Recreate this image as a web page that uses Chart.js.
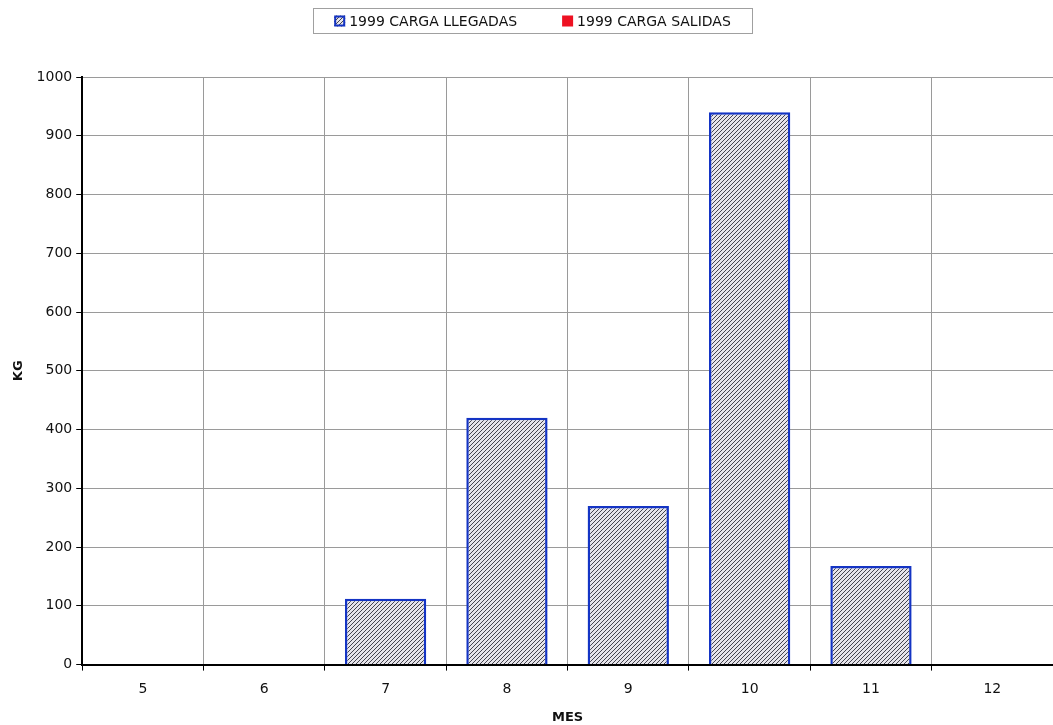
<!DOCTYPE html>
<html>
<head>
<meta charset="utf-8">
<script src="https://cdn.jsdelivr.net/npm/chart.js@4"></script>
<style>
  body { margin: 0; background: #fff; }
  #wrap { width: 1053px; height: 725px; }
</style>
</head>
<body>
<div id="wrap"><canvas id="cargaChart"></canvas></div>
<script>
// data
const meses = ["5", "6", "7", "8", "9", "10", "11", "12"];
const llegadas = [0, 0, 112, 420, 270, 940, 168, 0];
const salidas = [0, 0, 0, 0, 0, 0, 0, 0];
const yTicks = [0, 100, 200, 300, 400, 500, 600, 700, 800, 900, 1000];

const FONT = "'DejaVu Sans', Verdana, sans-serif";
const BLUE = "#1434c4";
const RED = "#ee1122";

// hatch fill for the bars
function makeHatch() {
    const c = document.createElement("canvas");
    c.width = 4;
    c.height = 4;
    const g = c.getContext("2d");
    g.fillStyle = "#e6e4ea";
    g.fillRect(0, 0, 4, 4);
    g.strokeStyle = "#44444e";
    g.lineWidth = 1;
    g.beginPath();
    g.moveTo(0, 4); g.lineTo(4, 0);
    g.moveTo(-1, 1); g.lineTo(1, -1);
    g.moveTo(3, 5); g.lineTo(5, 3);
    g.stroke();
    return g.createPattern(c, "repeat");
}
const hatch = makeHatch();

// boxed legend drawn at the top
const boxLegend = {
    id: "boxLegend",
    afterDraw(chart) {
        const ctx = chart.ctx;
        const ds = chart.data.datasets;
        ctx.save();
        ctx.font = "14px " + FONT;
        ctx.textBaseline = "middle";
        const gap = 45, box = 11, textGap = 4;
        const widths = ds.map(d => box + textGap + ctx.measureText(d.label).width);
        const total = widths.reduce((a, b) => a + b, 0) + gap * (ds.length - 1);
        const left = 313, width = 439;
        let x = left + (width - total) / 2;
        const cy = 21;
        ctx.strokeStyle = "#a0a0a0";
        ctx.lineWidth = 1;
        ctx.strokeRect(left + 0.5, 8.5, width, 25);
        ds.forEach((d, i) => {
            if (i === 0) {
                ctx.fillStyle = hatch;
                ctx.fillRect(x, cy - box / 2, box, box);
                ctx.strokeStyle = BLUE;
                ctx.lineWidth = 2;
                ctx.strokeRect(x + 1, cy - box / 2 + 1, box - 2, box - 2);
            } else {
                ctx.fillStyle = RED;
                ctx.fillRect(x, cy - box / 2, box, box);
            }
            ctx.fillStyle = "#111";
            ctx.fillText(d.label, x + box + textGap, cy + 1);
            x += widths[i] + gap;
        });
        ctx.restore();
    }
};

Chart.defaults.font.family = FONT;
Chart.defaults.color = "#111";

new Chart(document.getElementById("cargaChart"), {
    type: "bar",
    data: {
        labels: meses,
        datasets: [{
            label: "1999 CARGA LLEGADAS",
            data: llegadas,
            backgroundColor: hatch,
            borderColor: BLUE,
            borderWidth: 2.5,
            borderSkipped: "bottom"
        }, {
            label: "1999 CARGA SALIDAS",
            data: salidas,
            backgroundColor: RED,
            borderColor: RED,
            borderWidth: 0
        }]
    },
    options: {
        responsive: true,
        maintainAspectRatio: false,
        animation: false,
        layout: { padding: { left: 7, right: 0, top: 77, bottom: 0 } },
        datasets: {
            bar: { grouped: false, categoryPercentage: 1, barPercentage: 0.67 }
        },
        plugins: {
            tooltip: { enabled: false },
            legend: { display: false }
        },
        scales: {
            x: {
                grid: {
                    offset: true,
                    color: "#9a9a9a",
                    tickColor: "#000",
                    tickLength: 6
                },
                border: { color: "#000", width: 2 },
                ticks: { font: { size: 14 }, padding: 10 },
                title: {
                    display: true,
                    text: "MES",
                    font: { size: 13, weight: "bold" },
                    padding: { top: 2, bottom: 0 }
                }
            },
            y: {
                min: 0,
                max: 1000,
                afterBuildTicks: axis => {
                    axis.ticks = yTicks.map(v => ({ value: v }));
                },
                grid: {
                    color: "#9a9a9a",
                    tickColor: "#000",
                    tickLength: 6
                },
                border: { color: "#000", width: 2 },
                ticks: {
                    font: { size: 14 },
                    padding: 4,
                    callback: v => String(v)
                },
                title: {
                    display: true,
                    text: "KG",
                    font: { size: 13, weight: "bold" },
                    padding: { bottom: 6 }
                }
            }
        }
    },
    plugins: [boxLegend]
});
</script>
</body>
</html>
